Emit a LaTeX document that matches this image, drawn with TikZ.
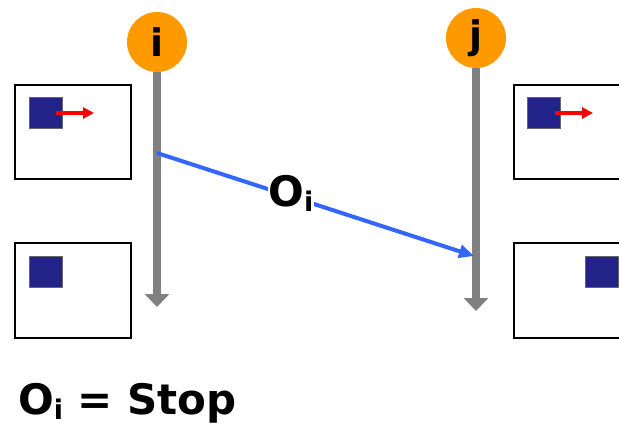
\documentclass[tikz,border=0pt]{standalone}
\usepackage{fontspec}
\setmainfont{DejaVu Sans}
\usetikzlibrary{arrows.meta}
\definecolor{orng}{RGB}{255,153,0}
\definecolor{gry}{RGB}{128,128,128}
\definecolor{blu}{RGB}{51,102,255}
\definecolor{navy}{RGB}{34,34,136}
\newcommand{\lowsub}[1]{\raisebox{-5pt}{\fontsize{27}{27}\selectfont #1}}
\begin{document}
\begin{tikzpicture}[x=1pt,y=-1pt,
  proc/.style={circle,fill=orng,minimum size=60pt,inner sep=0pt,font=\bfseries\fontsize{38}{38}\selectfont},
  timeline/.style={gry,line width=8pt,-{Triangle[width=24pt,length=13pt]}},
  frame/.style={draw=black,line width=1.5pt,fill=white},
  obj/.style={fill=navy,draw=black!60,line width=0.5pt},
  move/.style={red,line width=4.5pt,-{Triangle[width=11pt,length=11pt]}},
  msg/.style={blu,line width=4pt,-{Triangle[width=13pt,length=15pt]}},
  lbl/.style={font=\bfseries\fontsize{42}{42}\selectfont,fill=white,inner sep=1pt}]
\useasboundingbox (0,0) rectangle (619,424);
% frames
\draw[frame] (15,85) rectangle (131,179);
\draw[frame] (15,243) rectangle (131,338);
\draw[frame] (514,85) rectangle (625,179);
\draw[frame] (514,243) rectangle (625,338);
\draw[obj] (29,97) rectangle (62,128);
\draw[obj] (527,97) rectangle (560,128);
\draw[obj] (29,256) rectangle (62,287);
\draw[obj] (585,256) rectangle (618,287);
\draw[move] (56,113) -- (94,113);
\draw[move] (555,113) -- (593,113);
% processes
\node[proc] (pi) at (157,42) {i};
\node[proc] (pj) at (476,38) {j};
\coordinate (ei) at (157,307);
\coordinate (ej) at (476,311);
\draw[timeline] (pi.south) -- (ei);
\draw[timeline] (pj.south) -- (ej);
\coordinate (si) at (157,153);
\coordinate (rj) at (474,256);
\draw[msg] (si) -- (rj);
\node[lbl] (oi) at (291,193) {O\lowsub{i}};
\node[font=\bfseries\fontsize{42}{42}\selectfont,anchor=base west,inner sep=0pt] (stop) at (18,414) {O\lowsub{i} = Stop};
\end{tikzpicture}
\end{document}
